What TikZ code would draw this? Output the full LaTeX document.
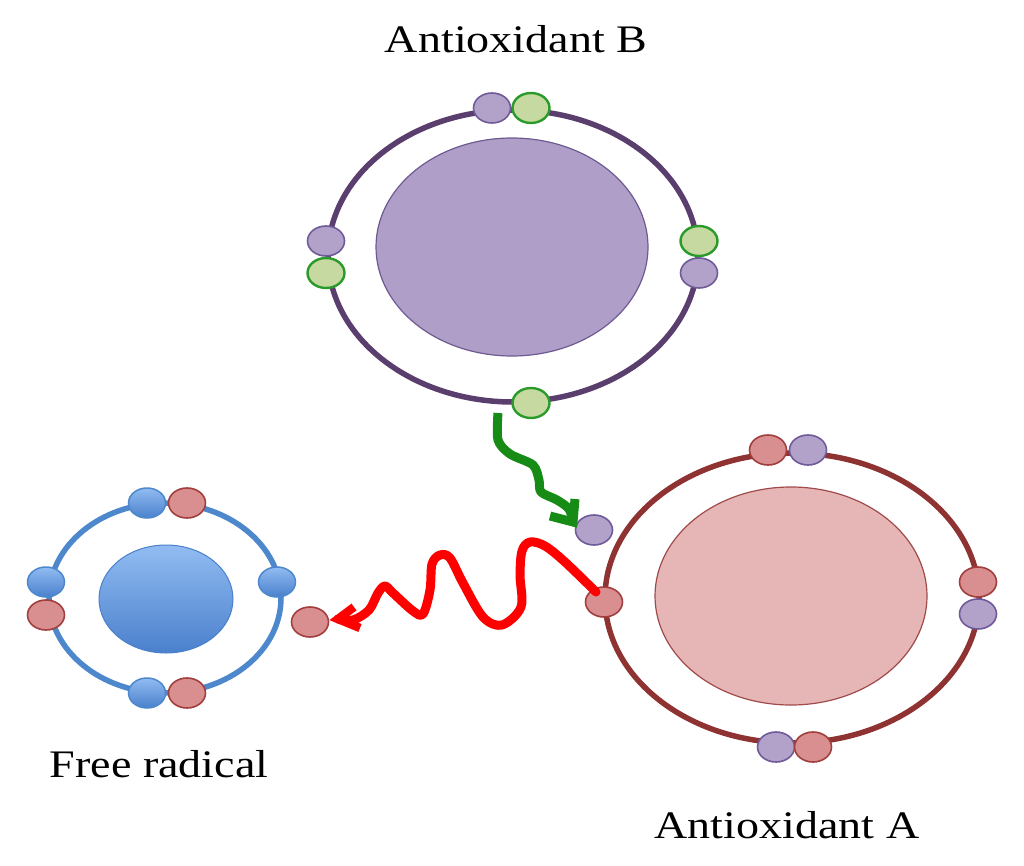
\documentclass[tikz,border=0pt]{standalone}
\usepackage{fontspec}
\setmainfont{Liberation Serif}
\usetikzlibrary{shapes.geometric}
\definecolor{bring}{HTML}{5A3E6E}
\definecolor{bnucfill}{HTML}{AF9EC7}
\definecolor{bnucline}{HTML}{6E5A92}
\definecolor{purfill}{HTML}{B2A1C9}
\definecolor{purline}{HTML}{6F5B9A}
\definecolor{grnfill}{HTML}{C6D9A0}
\definecolor{grnline}{HTML}{2A9A2A}
\definecolor{aring}{HTML}{8E3232}
\definecolor{anucfill}{HTML}{E6B6B6}
\definecolor{anucline}{HTML}{A04A4A}
\definecolor{redfill}{HTML}{D98F8F}
\definecolor{redline}{HTML}{A23E3E}
\definecolor{blring}{HTML}{4C88CB}
\definecolor{bltop}{HTML}{92BCF2}
\definecolor{blbot}{HTML}{4A80CC}
\definecolor{arrgreen}{HTML}{168C16}
\definecolor{arrred}{HTML}{FF0000}
\tikzset{
  ring/.style={line width=5.5pt},
  elec/.style={ellipse, minimum width=37pt, minimum height=30pt, inner sep=0pt, line width=1.6pt},
  epur/.style={elec, draw=purline, fill=purfill},
  egrn/.style={elec, draw=grnline, fill=grnfill, line width=2.4pt},
  ered/.style={elec, draw=redline, fill=redfill},
  eblu/.style={elec, draw=blring, top color=bltop, bottom color=blbot, line width=1.5pt},
  lbl/.style={anchor=base, inner sep=0pt, font=\fontsize{39}{47}\selectfont},
  wavy/.style={line width=9pt, line join=round},
}
\begin{document}
\begin{tikzpicture}[x=1pt,y=-1pt]
\useasboundingbox (0,0) rectangle (1024,866);
% ---------- Antioxidant B ----------
\node (bring) [ring, draw=bring, ellipse, minimum width=370pt, minimum height=292pt, inner sep=0pt] at (513,256) {};
\node (bnuc) [ellipse, draw=bnucline, fill=bnucfill, line width=1.2pt, minimum width=272pt, minimum height=218pt, inner sep=0pt] at (512,247) {};
\node (b1) [epur] at (492,108) {};
\node (b2) [egrn] at (531,108) {};
\node (b3) [epur] at (326,241) {};
\node (b4) [egrn] at (326,273) {};
\node (b5) [egrn] at (699,241) {};
\node (b6) [epur] at (699,273) {};
\node (b7) [egrn] at (531,403) {};
\node (lblB) [lbl] at (516,53) {\scalebox{1.18}[1]{Antioxidant B}};
% ---------- Antioxidant A ----------
\node (aring) [ring, draw=aring, ellipse, minimum width=374pt, minimum height=290pt, inner sep=0pt] at (792,598) {};
\node (anuc) [ellipse, draw=anucline, fill=anucfill, line width=1.2pt, minimum width=272pt, minimum height=218pt, inner sep=0pt] at (791,596) {};
\node (a1) [ered] at (768,450) {};
\node (a2) [epur] at (808,450) {};
\node (a3) [ered] at (978,582) {};
\node (a4) [epur] at (978,614) {};
\node (a5) [epur] at (776,747) {};
\node (a6) [ered] at (813,747) {};
\node (a7) [ered] at (604,602) {};
\node (afree) [epur] at (594,530) {};
\node (lblA) [lbl] at (787,838) {\scalebox{1.18}[1]{Antioxidant A}};
% ---------- Free radical ----------
\node (fring) [ring, draw=blring, ellipse, minimum width=232pt, minimum height=190pt, inner sep=0pt] at (165,598) {};
\node (fnuc) [ellipse, draw=blbot, top color=bltop, bottom color=blbot, line width=1pt, minimum width=134pt, minimum height=108pt, inner sep=0pt] at (166,599) {};
\node (f1) [eblu] at (147,503) {};
\node (f2) [ered] at (187,503) {};
\node (f3) [eblu] at (46,582) {};
\node (f4) [ered] at (46,615) {};
\node (f5) [eblu] at (277,582) {};
\node (f6) [eblu] at (147,693) {};
\node (f7) [ered] at (187,693) {};
\node (ffree) [ered] at (310,622) {};
\node (lblF) [lbl] at (159,777) {\scalebox{1.18}[1]{Free radical}};
% ---------- Green arrow ----------
\coordinate (gs) at (498,413);
\coordinate (gt) at (573,522);
\draw [wavy, draw=arrgreen] plot [smooth, tension=0.5] coordinates {(gs) (498,440) (510,454) (533,465) (539,480) (541,492) (557,500) (569,509) (gt)};
\draw [line width=9pt, draw=arrgreen, line join=miter] (550,516) -- (gt) -- (575,499);
% ---------- Red arrow ----------
\coordinate (rs) at (596,592);
\coordinate (rt) at (338,619);
\draw [wavy, draw=arrred, line cap=round] plot [smooth, tension=0.55] coordinates {(rs) (565,562) (545,546) (530,542) (522,551) (520,575) (521,607) (502,625) (483,617) (463,583) (450,558) (440,555) (432,564) (430,590) (423,614) (413,611) (393,593) (385,586) (378,593) (369,610) (353,620) (rt)};
\draw [line width=8.5pt, draw=arrred, line join=miter] (354,607) -- (rt) -- (360,628);
\end{tikzpicture}
\end{document}
